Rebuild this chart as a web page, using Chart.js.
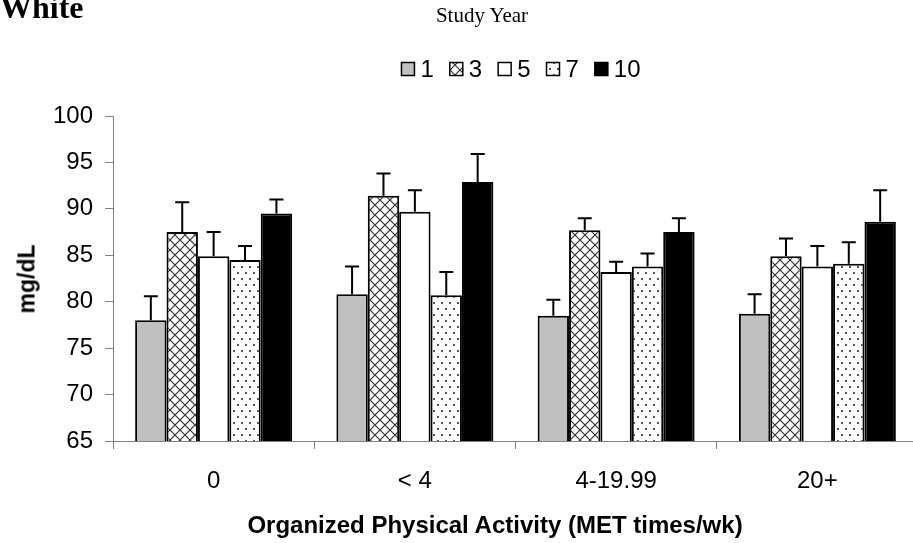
<!DOCTYPE html>
<html>
<head>
<meta charset="utf-8">
<script src="https://cdn.jsdelivr.net/npm/chart.js@4/dist/chart.umd.min.js"></script>
<style>
  html, body { margin: 0; padding: 0; background: #fff; overflow: hidden; }
  #wrap { position: relative; width: 913px; height: 543px; overflow: hidden; }
  #chart { position: absolute; left: 0; top: 0; }
  .lbl { position: absolute; white-space: nowrap; color: #000; }
  #group { left: 0px; top: -11px; font: bold 32px "Liberation Serif", "Times New Roman", serif; }
  #legendTitle { left: 482px; top: 3px; transform: translateX(-50%); font: 21px "Liberation Serif", "Times New Roman", serif; }
  #xTitle { left: 495px; top: 511px; transform: translateX(-50%); font: bold 24px "Liberation Sans", Arial, sans-serif; }
  #yTitle { left: 27px; top: 279px; transform: translate(-50%, -50%) rotate(-90deg); font: bold 23px "Liberation Sans", Arial, sans-serif; }
</style>
</head>
<body>
<div id="wrap">
  <canvas id="chart" width="925" height="543"></canvas>
  <div class="lbl" id="group">White</div>
  <div class="lbl" id="legendTitle">Study Year</div>
  <div class="lbl" id="xTitle">Organized Physical Activity (MET times/wk)</div>
  <div class="lbl" id="yTitle">mg/dL</div>
</div>
<script>
// Organized physical activity categories (MET times per week)
const categories = ['0', '< 4', '4-19.99', '20+'];
// Study years shown as series
const years = ['1', '3', '5', '7', '10'];

// Mean values (mg/dL) per study year
const year1  = [78.0, 80.8, 78.5, 78.7];
const year3  = [87.5, 91.4, 87.7, 84.9];
const year5  = [84.9, 89.7, 83.2, 83.8];
const year7  = [84.5, 80.7, 83.8, 84.1];
const year10 = [89.5, 92.9, 87.5, 88.6];

// Upper error bar lengths (mg/dL)
const err1  = [2.6, 3.0, 1.7, 2.1];
const err3  = [3.2, 2.4, 1.3, 1.9];
const err5  = [2.6, 2.3, 1.1, 2.2];
const err7  = [1.5, 2.5, 1.4, 2.3];
const err10 = [1.5, 3.0, 1.5, 3.4];

// Y axis range and step
const yMin = 65, yMax = 100, yStep = 5;

const FONT = '"Liberation Sans", Arial, sans-serif';

function crossHatch() {
  const c = document.createElement('canvas');
  c.width = 10; c.height = 10;
  const g = c.getContext('2d');
  g.fillStyle = '#fff'; g.fillRect(0, 0, 10, 10);
  g.strokeStyle = '#333'; g.lineWidth = 1.2;
  g.beginPath();
  g.moveTo(0, 0); g.lineTo(10, 10);
  g.moveTo(10, 0); g.lineTo(0, 10);
  g.stroke();
  return g.createPattern(c, 'repeat');
}
function dotted() {
  const c = document.createElement('canvas');
  c.width = 8; c.height = 12;
  const g = c.getContext('2d');
  g.fillStyle = '#fff'; g.fillRect(0, 0, 8, 12);
  g.fillStyle = '#555';
  g.fillRect(1, 2, 2, 2);
  g.fillRect(5, 8, 2, 2);
  return g.createPattern(c, 'repeat');
}

const fills = ['#c0c0c0', crossHatch(), '#ffffff', dotted(), '#000000'];
const values = [year1, year3, year5, year7, year10];
const errors = [err1, err3, err5, err7, err10];

const datasets = years.map((y, i) => ({
  label: y,
  data: values[i],
  errUp: errors[i],
  backgroundColor: fills[i],
  borderColor: '#000',
  borderWidth: 2,
  borderSkipped: false,
  categoryPercentage: 0.78,
  barPercentage: 1.0
}));

// Upper error bars with caps
const errorBars = {
  id: 'errorBars',
  afterDatasetsDraw(chart) {
    const ctx = chart.ctx, ys = chart.scales.y;
    ctx.save();
    ctx.strokeStyle = '#000';
    ctx.lineWidth = 2;
    chart.data.datasets.forEach((ds, i) => {
      chart.getDatasetMeta(i).data.forEach((bar, j) => {
        const top = ys.getPixelForValue(ds.data[j] + ds.errUp[j]);
        ctx.beginPath();
        ctx.moveTo(bar.x, bar.y);
        ctx.lineTo(bar.x, top);
        ctx.moveTo(bar.x - 7, top);
        ctx.lineTo(bar.x + 7, top);
        ctx.stroke();
      });
    });
    ctx.restore();
  }
};

// Horizontal legend of study years under the legend heading
const yearLegend = {
  id: 'yearLegend',
  afterDraw(chart) {
    const ctx = chart.ctx;
    ctx.save();
    ctx.font = '24px ' + FONT;
    ctx.textBaseline = 'middle';
    const box = 13, gap = 6, after = 16, cy = 69;
    const widths = chart.data.datasets.map(d => ctx.measureText(d.label).width);
    let total = 0;
    widths.forEach((w, i) => { total += box + gap + w + (i < widths.length - 1 ? after : 0); });
    let x = 521 - total / 2;
    chart.data.datasets.forEach((d, i) => {
      ctx.fillStyle = d.backgroundColor;
      ctx.fillRect(x, cy - box / 2, box, box);
      ctx.strokeStyle = '#000';
      ctx.lineWidth = 1.5;
      ctx.strokeRect(x, cy - box / 2, box, box);
      ctx.fillStyle = '#000';
      ctx.fillText(d.label, x + box + gap, cy + 1);
      x += box + gap + widths[i] + after;
    });
    ctx.restore();
  }
};

new Chart(document.getElementById('chart'), {
  type: 'bar',
  data: { labels: categories, datasets },
  options: {
    responsive: false,
    animation: false,
    layout: { padding: { top: 116, right: 7, left: 0, bottom: 0 } },
    plugins: { legend: { display: false }, tooltip: { enabled: false } },
    scales: {
      x: {
        offset: true,
        grid: { offset: true, drawOnChartArea: false, drawTicks: true, tickLength: 8, color: '#808080', lineWidth: 1 },
        border: { color: '#808080', width: 1 },
        ticks: { color: '#000', font: { family: FONT, size: 24 }, padding: 18, maxRotation: 0 },
        afterFit(s) { s.height = 102; }
      },
      y: {
        min: yMin, max: yMax,
        ticks: { stepSize: yStep, color: '#000', font: { family: FONT, size: 24 }, padding: 12 },
        grid: { drawOnChartArea: false, drawTicks: true, tickLength: 8, color: '#808080', lineWidth: 1 },
        border: { color: '#808080', width: 1 },
        afterFit(s) { s.width = 113; }
      }
    }
  },
  plugins: [errorBars, yearLegend]
});
</script>
</body>
</html>
